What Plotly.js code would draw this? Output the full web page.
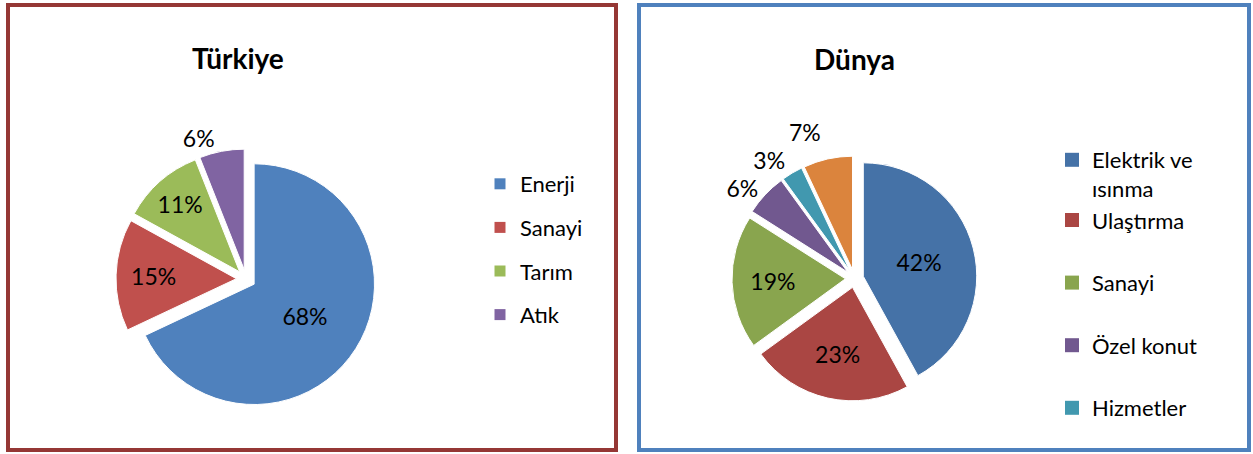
<!DOCTYPE html>
<html>
<head>
<meta charset="utf-8">
<script src="https://cdn.plot.ly/plotly-3.0.1.min.js"></script>
<style>
html,body{margin:0;padding:0;background:#fff;}
#chart{width:1253px;height:454px;}
/* the original draws no connector lines for the small outside labels of the right pie */
#chart path.textline{stroke-opacity:0 !important;}
</style>
</head>
<body>
<div id="chart"></div>
<script>
// ---- Data ----
const trTitle = 'Türkiye';
const trCategories = ['Enerji', 'Sanayi', 'Tarım', 'Atık'];
const trValues = [68, 15, 11, 6];
const trColors = ['#4F81BD', '#C0504D', '#9BBB59', '#8064A2'];
const trTextPos = ['inside', 'inside', 'inside', 'outside'];

const dnTitle = 'Dünya';
const dnCategories = ['Elektrik ve ısınma', 'Ulaştırma', 'Sanayi', 'Özel konut', 'Hizmetler', 'Diğer'];
const dnValues = [42, 23, 19, 6, 3, 7];
const dnColors = ['#4572A7', '#AA4643', '#89A54E', '#71588F', '#4198AF', '#DB843D'];
const dnTextPos = ['inside', 'inside', 'inside', 'outside', 'outside', 'outside'];
// the legend of the original only shows the first five entries
const dnLegendLabels = ['Elektrik ve<br>ısınma', 'Ulaştırma', 'Sanayi', 'Özel konut', 'Hizmetler'];
// entries sharing a group are stacked with no gap (the two-line first entry)
const dnLegendGroups = ['g1', 'g1', 'g3', 'g4', 'g5'];

// ---- helpers ----
const W = 1253, H = 454;
const px = v => v / W;
const py = v => 1 - v / H;
const FONT = 'Lato, "Open Sans", sans-serif';

function pieTrace(labels, values, colors, textpos, domainPx) {
  return {
    type: 'pie',
    labels: labels,
    values: values,
    sort: false,
    direction: 'clockwise',
    rotation: 0,
    pull: 0.08,
    marker: {colors: colors, line: {color: '#ffffff', width: 1}},
    textinfo: 'percent',
    textposition: textpos,
    insidetextorientation: 'horizontal',
    textfont: {family: FONT, size: 23, color: '#000000'},
    outsidetextfont: {family: FONT, size: 23, color: '#000000'},
    showlegend: false,
    hoverinfo: 'label+percent',
    domain: {x: [px(domainPx[0]), px(domainPx[1])], y: [py(domainPx[3]), py(domainPx[2])]}
  };
}

const traces = [
  pieTrace(trCategories, trValues, trColors, trTextPos, [116, 376, 149, 409]),
  pieTrace(dnCategories, dnValues, dnColors, dnTextPos, [732, 977, 156, 401])
];

// legend entries (square markers like the original legend)
trCategories.forEach((c, i) => {
  traces.push({
    type: 'scatter', mode: 'markers', x: [null], y: [null],
    name: c, legend: 'legend', legendgroup: 'tr' + i,
    marker: {symbol: 'square', size: 11, color: trColors[i]},
    hoverinfo: 'skip', showlegend: true
  });
});
dnLegendLabels.forEach((c, i) => {
  traces.push({
    type: 'scatter', mode: 'markers', x: [null], y: [null],
    name: c, legend: 'legend2', legendgroup: dnLegendGroups[i],
    marker: {symbol: 'square', size: 14, color: dnColors[i]},
    hoverinfo: 'skip', showlegend: true
  });
});

const layout = {
  width: W, height: H,
  margin: {l: 0, r: 0, t: 0, b: 0},
  paper_bgcolor: '#ffffff',
  plot_bgcolor: 'rgba(0,0,0,0)',
  font: {family: FONT, color: '#000000'},
  xaxis: {visible: false, range: [0, 1]},
  yaxis: {visible: false, range: [0, 1]},
  showlegend: true,
  uniformtext: {mode: 'show', minsize: 23},
  legend: {
    x: px(480), y: py(163), xanchor: 'left', yanchor: 'top',
    bgcolor: 'rgba(0,0,0,0)', borderwidth: 0,
    font: {family: FONT, size: 22, color: '#000000'},
    tracegroupgap: 12, traceorder: 'grouped', itemclick: false, itemdoubleclick: false
  },
  legend2: {
    x: px(1052), y: py(139), xanchor: 'left', yanchor: 'top',
    bgcolor: 'rgba(0,0,0,0)', borderwidth: 0, valign: 'top',
    font: {family: FONT, size: 22, color: '#000000'},
    tracegroupgap: 31, traceorder: 'grouped', itemclick: false, itemdoubleclick: false
  },
  annotations: [
    {text: trTitle, x: px(238), y: py(58), xref: 'paper', yref: 'paper', showarrow: false,
     xanchor: 'center', yanchor: 'middle', font: {family: FONT, size: 28, weight: 'bold', color: '#000000'}},
    {text: dnTitle, x: px(855), y: py(59), xref: 'paper', yref: 'paper', showarrow: false,
     xanchor: 'center', yanchor: 'middle', font: {family: FONT, size: 28, weight: 'bold', color: '#000000'}}
  ],
  shapes: [
    {type: 'rect', xref: 'paper', yref: 'paper', x0: px(8), x1: px(616), y0: py(450), y1: py(5),
     line: {color: '#953735', width: 4}, fillcolor: 'rgba(0,0,0,0)'},
    {type: 'rect', xref: 'paper', yref: 'paper', x0: px(639), x1: px(1249), y0: py(450), y1: py(5),
     line: {color: '#4F81BD', width: 4}, fillcolor: 'rgba(0,0,0,0)'}
  ]
};

Plotly.newPlot('chart', traces, layout, {staticPlot: true, displayModeBar: false});
</script>
</body>
</html>
